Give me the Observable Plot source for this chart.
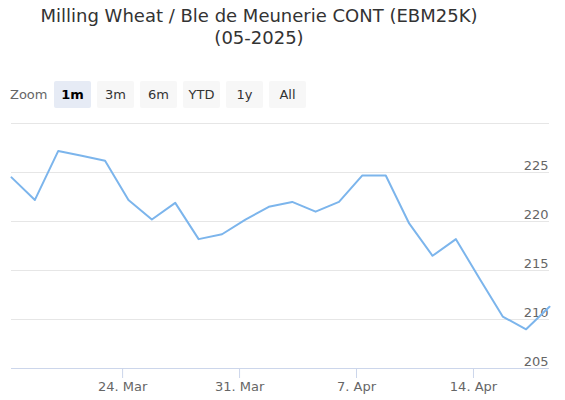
<!DOCTYPE html>
<html>
<head>
<meta charset="utf-8">
<script src="https://cdn.jsdelivr.net/npm/d3@7"></script>
<script src="https://cdn.jsdelivr.net/npm/@observablehq/plot@0.6"></script>
<style>
  html, body { margin: 0; padding: 0; background: #fff; }
  body { width: 565px; height: 400px; position: relative; overflow: hidden; font-family: "DejaVu Sans", sans-serif; }
  #title { position: absolute; top: 5px; left: 0; width: 518px; text-align: center; font-size: 18px; line-height: 22px; color: #333; white-space: nowrap; }
  #rs { position: absolute; top: 81px; left: 10px; height: 27px; display: flex; align-items: center; font-size: 13px; color: #666; }
  #rs .lbl { width: 44px; }
  #rs .btn { width: 37px; height: 27px; line-height: 27px; text-align: center; background: #f7f7f7; color: #333; margin-right: 6px; border-radius: 2px; }
  #rs .btn.sel { background: #e6ebf5; font-weight: bold; color: #000; }
  #chart { position: absolute; top: 110px; left: 0; }
</style>
</head>
<body>
<div id="title"></div>
<div id="rs"></div>
<div id="chart"></div>
<script>
const titleLines = ["Milling Wheat / Ble de Meunerie CONT (EBM25K)", "(05-2025)"];
const zoomLabel = "Zoom";
const zoomButtons = ["1m", "3m", "6m", "YTD", "1y", "All"];
const selectedButton = "1m";

// trading days (settlement at 18:00 UTC)
const dates = ["2025-03-17","2025-03-18","2025-03-19","2025-03-20","2025-03-21",
  "2025-03-24","2025-03-25","2025-03-26","2025-03-27","2025-03-28",
  "2025-03-31","2025-04-01","2025-04-02","2025-04-03","2025-04-04",
  "2025-04-07","2025-04-08","2025-04-09","2025-04-10","2025-04-11",
  "2025-04-14","2025-04-15","2025-04-16","2025-04-17"];
const prices = [224.5, 222.2, 227.2, 226.7, 226.2,
  222.2, 220.2, 221.9, 218.2, 218.7,
  220.2, 221.5, 222.0, 221.0, 222.0,
  224.7, 224.7, 219.8, 216.5, 218.2,
  214.2, 210.3, 209.0, 211.3];
const settleHour = 18;
const xTickDates = ["2025-03-24", "2025-03-31", "2025-04-07", "2025-04-14"];
const xTickLabels = ["24. Mar", "31. Mar", "7. Apr", "14. Apr"];
const yTicks = [205, 210, 215, 220, 225];
const yGrid = [210, 215, 220, 225, 230];
const yDomain = [205, 230];

document.getElementById("title").innerHTML = titleLines.join("<br>");
const rs = document.getElementById("rs");
rs.innerHTML = `<span class="lbl">${zoomLabel}</span>` +
  zoomButtons.map(b => `<span class="btn${b === selectedButton ? " sel" : ""}">${b}</span>`).join("");

// ordinal axis: points equally spaced by index
const times = dates.map(d => new Date(d + "T00:00:00Z").getTime() + settleHour * 3600e3);
const data = prices.map((v, i) => ({i, v}));
function ordinalPos(t) {
  for (let k = 0; k < times.length - 1; k++) {
    if (t >= times[k] && t < times[k + 1]) return k + (t - times[k]) / (times[k + 1] - times[k]);
  }
  return t < times[0] ? 0 : times.length - 1;
}
const xTickPos = xTickDates.map(d => ordinalPos(new Date(d + "T00:00:00Z").getTime()));

const chart = Plot.plot({
  width: 565,
  height: 290,
  marginTop: 13,
  marginBottom: 32,
  marginLeft: 11,
  marginRight: 16,
  style: {fontFamily: "DejaVu Sans, sans-serif", background: "#fff"},
  x: {domain: [0, dates.length - 1], axis: null},
  y: {domain: yDomain, axis: null},
  marks: [
    Plot.ruleY(yGrid, {stroke: "#e6e6e6", strokeWidth: 1}),
    Plot.ruleY([yDomain[0]], {stroke: "#ccd6eb", strokeWidth: 1}),
    Plot.axisX({ticks: xTickPos, tickFormat: (d, i) => xTickLabels[i], tickSize: 10, tickPadding: 3,
      stroke: "#ccd6eb", fill: "#666", fontSize: 13, label: null}),
    Plot.axisY({anchor: "right", ticks: yTicks, tickSize: 0, tickPadding: 0, textAnchor: "end",
      lineAnchor: "bottom", dx: -1, dy: -3, fill: "#666", fontSize: 13, label: null, tickFormat: d => String(d)}),
    Plot.line(data, {x: "i", y: "v", stroke: "#7cb5ec", strokeWidth: 2})
  ]
});
document.getElementById("chart").appendChild(chart);
</script>
</body>
</html>
